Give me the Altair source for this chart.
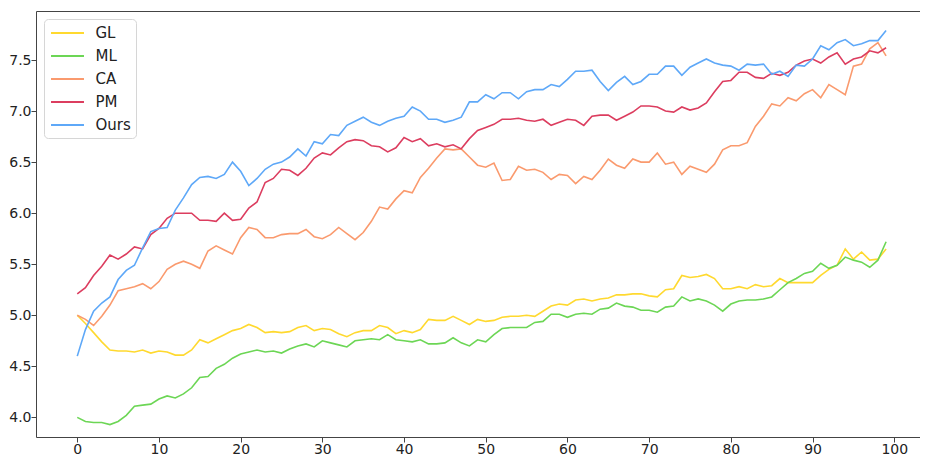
import altair as alt
import pandas as pd

series_names = ["GL", "ML", "CA", "PM", "Ours"]
colors = ["#FFD92F", "#6CD655", "#FA9A6E", "#DC3D5F", "#5EA8F8"]

GL = [5.00, 4.92, 4.83, 4.74, 4.66, 4.65, 4.65, 4.64, 4.66, 4.63,
      4.65, 4.64, 4.61, 4.61, 4.66, 4.76, 4.73, 4.77, 4.81, 4.85,
      4.87, 4.91, 4.88, 4.83, 4.84, 4.83, 4.84, 4.88, 4.90, 4.85,
      4.87, 4.86, 4.82, 4.79, 4.83, 4.85, 4.85, 4.90, 4.88, 4.82,
      4.85, 4.83, 4.86, 4.96, 4.95, 4.95, 4.99, 4.95, 4.91, 4.96,
      4.94, 4.95, 4.98, 4.99, 4.99, 5.00, 4.99, 5.04, 5.09, 5.11,
      5.10, 5.15, 5.16, 5.14, 5.16, 5.17, 5.20, 5.20, 5.21, 5.21,
      5.19, 5.18, 5.25, 5.26, 5.39, 5.37, 5.38, 5.40, 5.36, 5.26,
      5.26, 5.28, 5.26, 5.30, 5.28, 5.29, 5.36, 5.32, 5.32, 5.32,
      5.32, 5.39, 5.45, 5.49, 5.65, 5.55, 5.62, 5.54, 5.55, 5.65]

ML = [4.00, 3.96, 3.95, 3.95, 3.93, 3.96, 4.02, 4.11, 4.12, 4.13,
      4.18, 4.21, 4.19, 4.23, 4.29, 4.39, 4.40, 4.48, 4.52, 4.58,
      4.62, 4.64, 4.66, 4.64, 4.65, 4.63, 4.67, 4.70, 4.72, 4.69,
      4.75, 4.73, 4.71, 4.69, 4.75, 4.76, 4.77, 4.76, 4.81, 4.76,
      4.75, 4.74, 4.76, 4.72, 4.72, 4.73, 4.78, 4.73, 4.70, 4.76,
      4.74, 4.81, 4.87, 4.88, 4.88, 4.88, 4.93, 4.94, 5.01, 5.01,
      4.98, 5.01, 5.02, 5.01, 5.06, 5.07, 5.12, 5.09, 5.08, 5.05,
      5.05, 5.03, 5.08, 5.09, 5.18, 5.14, 5.16, 5.14, 5.10, 5.04,
      5.11, 5.14, 5.15, 5.15, 5.16, 5.18, 5.25, 5.32, 5.36, 5.41,
      5.43, 5.51, 5.46, 5.49, 5.57, 5.54, 5.52, 5.47, 5.54, 5.72]

CA = [5.00, 4.96, 4.90, 4.99, 5.10, 5.24, 5.26, 5.28, 5.31, 5.26,
      5.33, 5.45, 5.50, 5.53, 5.50, 5.46, 5.63, 5.68, 5.64, 5.60,
      5.76, 5.86, 5.84, 5.76, 5.76, 5.79, 5.80, 5.80, 5.84, 5.77,
      5.75, 5.79, 5.86, 5.80, 5.74, 5.81, 5.92, 6.06, 6.04, 6.14,
      6.22, 6.20, 6.35, 6.44, 6.54, 6.63, 6.62, 6.63, 6.55, 6.47,
      6.45, 6.49, 6.32, 6.33, 6.46, 6.42, 6.43, 6.40, 6.33, 6.38,
      6.37, 6.29, 6.36, 6.33, 6.42, 6.53, 6.47, 6.44, 6.53, 6.50,
      6.50, 6.59, 6.48, 6.50, 6.38, 6.46, 6.43, 6.40, 6.48, 6.62,
      6.66, 6.66, 6.69, 6.85, 6.95, 7.07, 7.05, 7.13, 7.10, 7.17,
      7.21, 7.13, 7.26, 7.21, 7.16, 7.44, 7.46, 7.61, 7.67, 7.54]

PM = [5.21, 5.27, 5.39, 5.48, 5.59, 5.55, 5.60, 5.67, 5.65, 5.79,
      5.85, 5.95, 6.00, 6.00, 6.00, 5.93, 5.93, 5.92, 6.00, 5.93,
      5.94, 6.05, 6.11, 6.30, 6.34, 6.43, 6.42, 6.37, 6.44, 6.54,
      6.59, 6.57, 6.64, 6.70, 6.72, 6.71, 6.66, 6.65, 6.60, 6.64,
      6.74, 6.70, 6.73, 6.66, 6.68, 6.65, 6.67, 6.63, 6.73, 6.81,
      6.84, 6.87, 6.92, 6.92, 6.93, 6.91, 6.90, 6.92, 6.86, 6.89,
      6.92, 6.91, 6.86, 6.95, 6.96, 6.96, 6.91, 6.95, 6.99, 7.05,
      7.05, 7.04, 7.00, 6.99, 7.04, 7.01, 7.03, 7.08, 7.19, 7.29,
      7.30, 7.38, 7.38, 7.33, 7.32, 7.37, 7.35, 7.38, 7.45, 7.49,
      7.51, 7.47, 7.53, 7.57, 7.46, 7.51, 7.53, 7.59, 7.57, 7.62]

OURS = [4.60, 4.86, 5.04, 5.12, 5.18, 5.35, 5.44, 5.49, 5.66, 5.82,
        5.85, 5.86, 6.03, 6.15, 6.28, 6.35, 6.36, 6.34, 6.38, 6.50,
        6.41, 6.27, 6.34, 6.43, 6.48, 6.50, 6.55, 6.63, 6.56, 6.70,
        6.68, 6.77, 6.76, 6.86, 6.90, 6.94, 6.89, 6.86, 6.90, 6.93,
        6.95, 7.04, 7.00, 6.92, 6.92, 6.89, 6.91, 6.94, 7.09, 7.09,
        7.16, 7.12, 7.18, 7.18, 7.12, 7.19, 7.21, 7.21, 7.26, 7.24,
        7.31, 7.39, 7.39, 7.40, 7.29, 7.20, 7.28, 7.34, 7.26, 7.29,
        7.36, 7.36, 7.44, 7.44, 7.35, 7.43, 7.47, 7.51, 7.47, 7.45,
        7.44, 7.40, 7.46, 7.45, 7.46, 7.36, 7.39, 7.34, 7.45, 7.44,
        7.51, 7.64, 7.60, 7.67, 7.70, 7.64, 7.66, 7.69, 7.69, 7.79]

x_ticks = [0, 10, 20, 30, 40, 50, 60, 70, 80, 90, 100]
y_ticks = [4.0, 4.5, 5.0, 5.5, 6.0, 6.5, 7.0, 7.5]

rows = []
for name, vals in zip(series_names, [GL, ML, CA, PM, OURS]):
    for i, v in enumerate(vals):
        rows.append({"step": i, "value": v, "method": name})
df = pd.DataFrame(rows)

FONT = "DejaVu Sans"

chart = alt.Chart(df).mark_line(strokeWidth=1.6).encode(
    x=alt.X("step:Q",
            scale=alt.Scale(domain=[-5.05, 103.15], nice=False, zero=False),
            axis=alt.Axis(values=x_ticks, title=None, grid=False, format="d",
                          labelFontSize=14, tickSize=5, labelPadding=0,
                          domain=False)),
    y=alt.Y("value:Q",
            scale=alt.Scale(domain=[3.808, 7.98], nice=False, zero=False),
            axis=alt.Axis(values=y_ticks, title=None, grid=False, format=".1f",
                          labelFontSize=14, tickSize=5, labelPadding=0,
                          domain=False)),
    color=alt.Color("method:N",
                    scale=alt.Scale(domain=series_names, range=colors),
                    sort=series_names,
                    legend=alt.Legend(title=None, orient="none",
                                      legendX=8, legendY=8,
                                      symbolType="M-2.06,0L2.06,0",
                                      symbolSize=256,
                                      symbolStrokeWidth=2,
                                      symbolFillColor="transparent",
                                      symbolOffset=9.5,
                                      labelFontSize=15, labelFont=FONT,
                                      labelColor="#222",
                                      rowPadding=6, padding=5,
                                      cornerRadius=4,
                                      strokeColor="#d6d6d6",
                                      fillColor="white",
                                      labelOffset=19)),
    detail="method:N",
).properties(
    width=884,
    height=426,
    autosize=alt.AutoSizeParams(type="none"),
    padding={"left": 28, "top": 3, "right": 0, "bottom": 19},
).configure_view(
    stroke="#444", strokeWidth=1
).configure_axis(
    labelFont=FONT, labelColor="#222", tickColor="#444"
)

chart.save("out.html", embed_options={"renderer": "svg", "actions": False})
